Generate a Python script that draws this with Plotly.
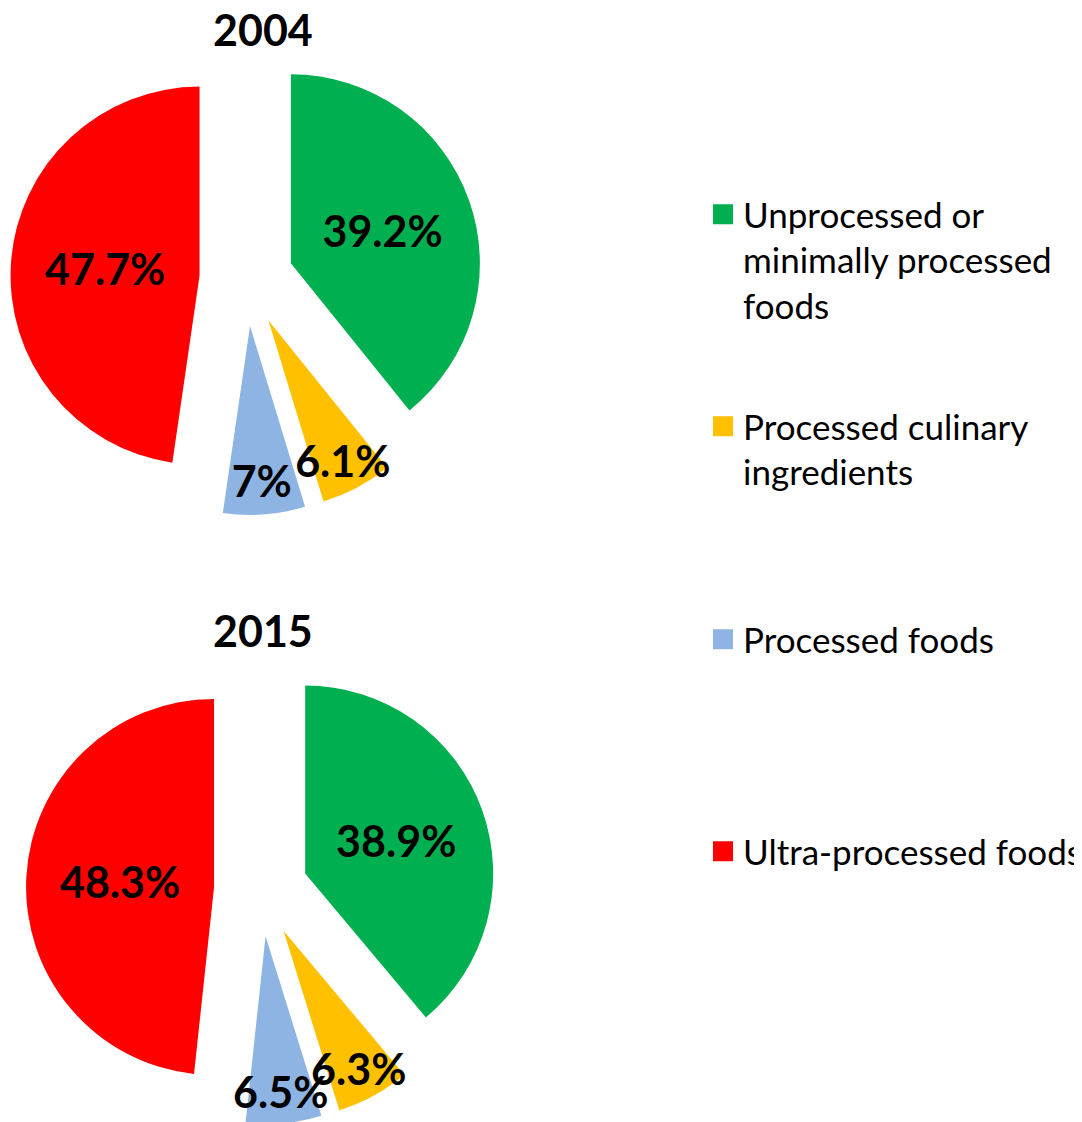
import plotly.graph_objects as go

categories = ["Unprocessed or minimally processed foods",
              "Processed culinary ingredients",
              "Processed foods",
              "Ultra-processed foods"]
legend_labels = ["Unprocessed or<br>minimally processed<br>foods",
                 "Processed culinary<br>ingredients",
                 "Processed foods",
                 "Ultra-processed foods"]
colors = ["#00B050", "#FFC000", "#8EB4E3", "#FF0000"]
values_2004 = [39.2, 6.1, 7.0, 47.7]
values_2015 = [38.9, 6.3, 6.5, 48.3]
years = ["2004", "2015"]

# the page places the figure 8px in from the top-left corner
OFF = 8
W, H = 1120, 1140


def px_dom(cx, cy, half):
    cx, cy = cx - OFF, cy - OFF
    return dict(x=[max(0, (cx - half) / W), min(1, (cx + half) / W)],
                y=[max(0, 1 - (cy + half) / H), min(1, 1 - (cy - half) / H)])


fig = go.Figure()
label_font = dict(family="Lato", size=43, color="black", weight="bold")

PULL1 = 0.249
R1 = 189
fig.add_trace(go.Pie(
    labels=categories, values=values_2004, sort=False, direction="clockwise",
    rotation=0, pull=[PULL1] * 4, marker=dict(colors=colors),
    texttemplate="%{value}%", textposition="inside",
    insidetextorientation="horizontal", textfont=label_font,
    showlegend=False, domain=px_dom(246.5, 279, R1 * (1 + PULL1)),
    hoverinfo="label+value"))

PULL2 = 0.25
R2 = 188
fig.add_trace(go.Pie(
    labels=categories, values=values_2015, sort=False, direction="clockwise",
    rotation=0, pull=[PULL2] * 4, marker=dict(colors=colors),
    texttemplate="%{value}%", textposition="inside",
    insidetextorientation="horizontal", textfont=label_font,
    showlegend=False, domain=px_dom(261, 889.5, R2 * (1 + PULL2)),
    hoverinfo="label+value"))

# legend entries (one legend each so that their positions match the original)
legend_y = [216, 428, 641, 853]
for i, (lab, col) in enumerate(zip(legend_labels, colors)):
    name = "legend" if i == 0 else f"legend{i + 1}"
    fig.add_trace(go.Scatter(
        x=[None], y=[None], mode="markers", name=lab, legend=name,
        marker=dict(symbol="square", size=16, color=col, line=dict(color=col, width=4)),
        showlegend=True))
    fig.update_layout({name: dict(
        x=(703 - OFF) / W, xanchor="left",
        y=1 - (legend_y[i] - 31 - OFF) / H, yanchor="top",
        valign="top", bgcolor="rgba(0,0,0,0)", borderwidth=0,
        font=dict(family="Lato", size=35, color="black"))})

for yr, (cx, cy) in zip(years, [(255, 22), (255, 622)]):
    fig.add_annotation(text=yr, x=cx / W, y=1 - cy / H, xref="paper", yref="paper",
                       showarrow=False, xanchor="center", yanchor="middle",
                       font=dict(family="Lato", size=43, color="black", weight="bold"))

fig.update_layout(
    width=W, height=H, margin=dict(l=0, r=0, t=0, b=0),
    paper_bgcolor="white", plot_bgcolor="white",
    uniformtext=dict(minsize=43, mode="show"),
    xaxis=dict(visible=False), yaxis=dict(visible=False),
)

fig.write_html("out.html")
